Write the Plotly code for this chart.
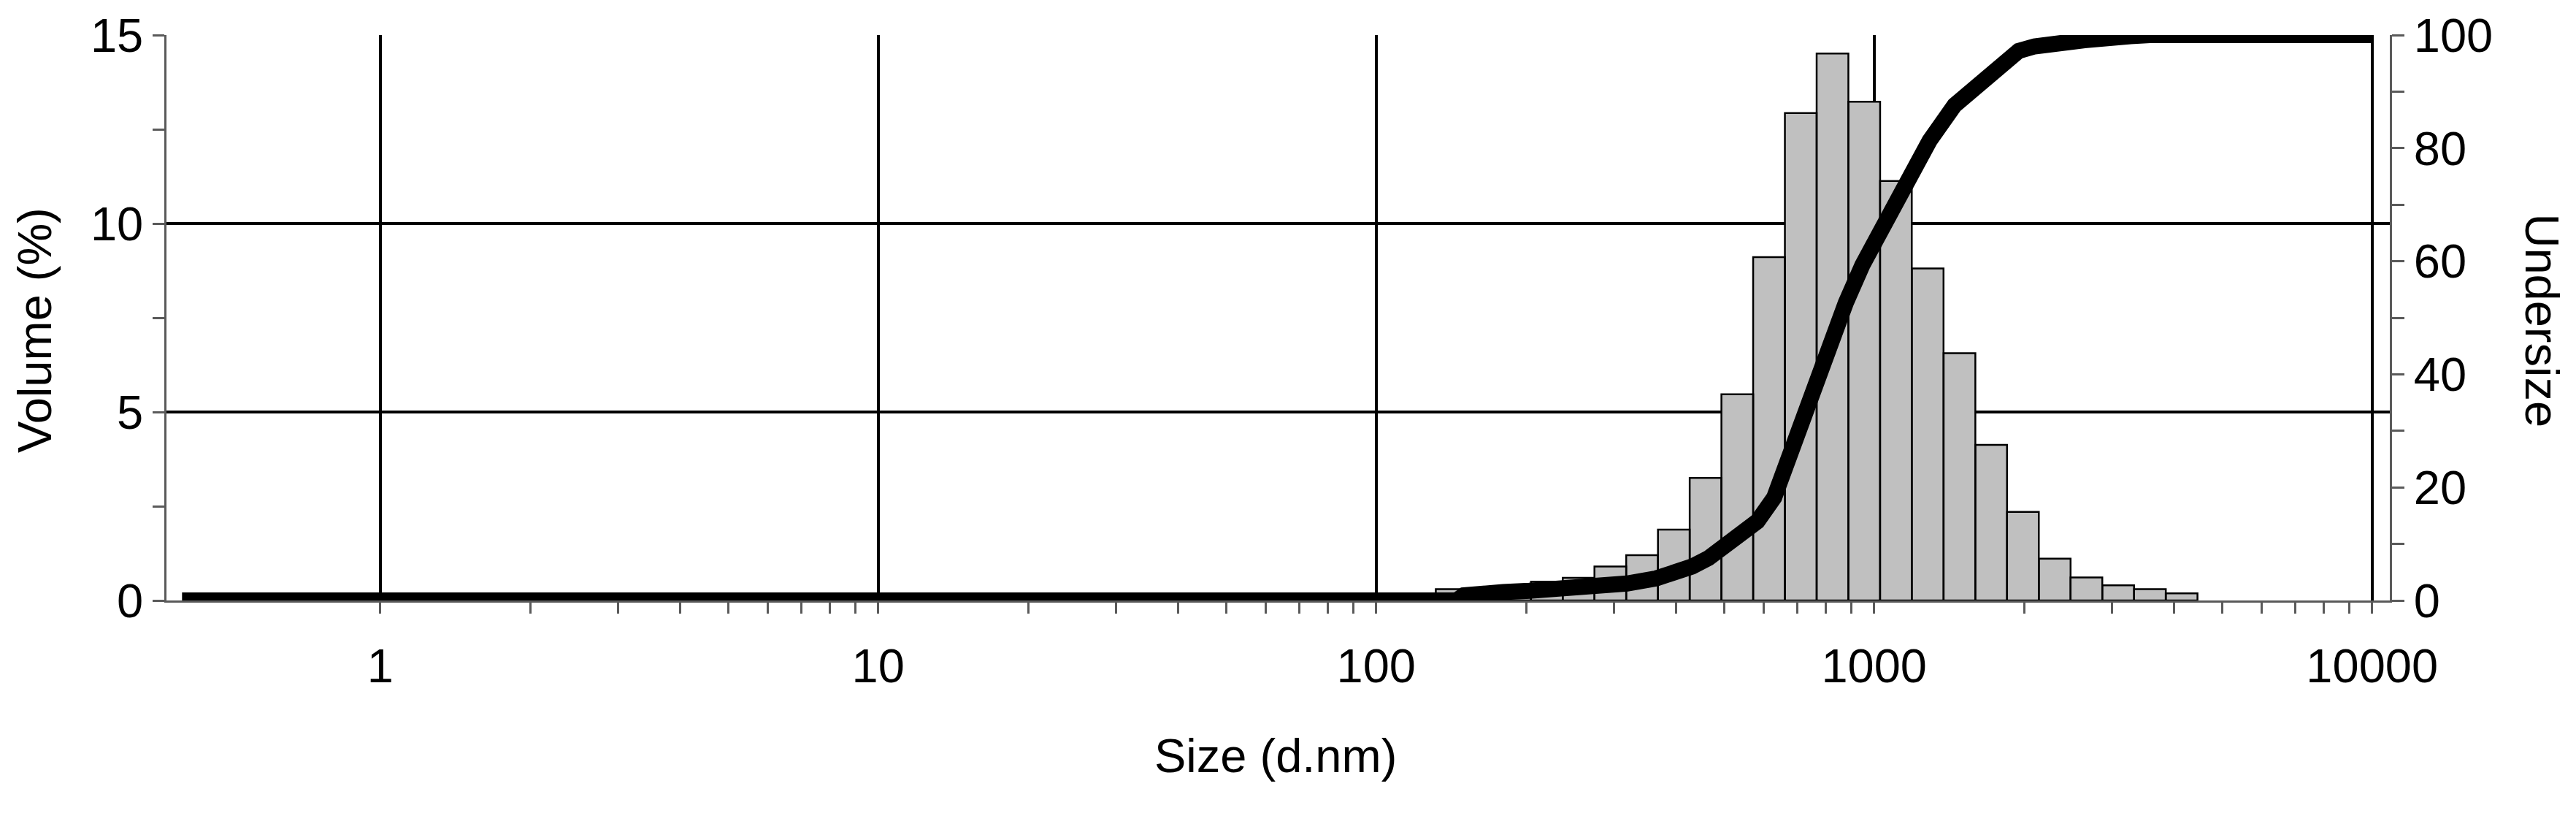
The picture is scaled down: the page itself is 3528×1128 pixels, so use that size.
import numpy as np
import plotly.graph_objects as go

# ---------------- data ----------------
# Volume distribution bins (Malvern size classes, d.nm) and volume %
bin_size_nm = [141.8, 164.2, 190.1, 220.2, 255.0, 295.3, 342.0, 396.1, 458.7,
               531.2, 615.1, 712.4, 825.0, 955.4, 1106, 1281, 1484, 1718,
               1990, 2305, 2669, 3091, 3580, 4145]
volume_pct = [0.30, 0.20, 0.25, 0.50, 0.60, 0.90, 1.20, 1.88, 3.25,
              5.47, 9.11, 12.93, 14.51, 13.23, 11.13, 8.81, 6.56, 4.13,
              2.35, 1.11, 0.61, 0.40, 0.30, 0.19]

# Cumulative undersize curve (%)
undersize_size_nm = [0.4, 145, 150, 159, 180, 203, 254, 274, 319, 365, 400,
                     431, 465, 501, 541, 583, 630, 656, 705, 766, 827, 877,
                     947, 1023, 1106, 1195, 1292, 1451, 1549, 1630, 1693,
                     1851, 1952, 2100, 2212, 2644, 3273, 3577, 10000]
undersize_pct = [0, 0, 0.9, 1.3, 1.5, 1.7, 2.2, 2.5, 3.0, 3.9, 4.7,
                 6.0, 7.5, 9.5, 11.6, 14.0, 18.2, 22.5, 29.0, 38.0, 46.5, 52.6,
                 59.3, 65.0, 70.6, 76.3, 81.3, 87.6, 89.8, 91.9, 93.0,
                 95.6, 97.2, 98.0, 98.4, 99.1, 99.8, 100, 100]

x_tick_vals = [1, 10, 100, 1000, 10000]
x_tick_text = ["1", "10", "100", "1000", "10000"]
y_left_ticks = [0, 5, 10, 15]
y_left_minor = [2.5, 7.5, 12.5]
y_right_ticks = [0, 20, 40, 60, 80, 100]
y_right_minor = [10, 30, 50, 70, 90]

# ---------------- derived geometry for bars ----------------
logc = np.log10(bin_size_nm)
half = np.mean(np.diff(logc)) / 2.0
edges_l = 10 ** (logc - half)
edges_r = 10 ** (logc + half)
bx, by = [], []
for l, r, h in zip(edges_l, edges_r, volume_pct):
    bx += [l, l, r, r, l, None]
    by += [0, h, h, 0, 0, None]

x_minor = [k * 10 ** d for d in range(0, 4) for k in range(2, 10)]

AX = "#5a5a5a"
FONT = "Liberation Sans, Arial, Helvetica, sans-serif"
XR = [-0.4292, 4.0356]

fig = go.Figure()
fig.add_trace(go.Scatter(
    x=bx, y=by, mode="lines", fill="toself", fillcolor="#c0c0c0",
    line=dict(color="black", width=2.5), xaxis="x", yaxis="y",
    hoverinfo="skip", name="Volume"))
fig.add_trace(go.Scatter(
    x=undersize_size_nm, y=undersize_pct, mode="lines",
    line=dict(color="black", width=22), xaxis="x", yaxis="y2",
    name="Undersize"))

fig.update_layout(
    width=3520, height=1120,
    margin=dict(l=220, r=255, t=40, b=306, autoexpand=False),
    paper_bgcolor="white", plot_bgcolor="white", showlegend=False,
    font=dict(family=FONT, size=65, color="black"),
    xaxis=dict(type="log", range=XR, tickmode="array", tickvals=x_tick_vals,
               ticktext=x_tick_text, showgrid=True, gridcolor="black",
               gridwidth=3.5, ticks="outside", ticklen=15, tickwidth=2.5,
               tickcolor=AX, showline=True, linecolor=AX, linewidth=2.5,
               zeroline=False, layer="below traces", ticklabelstandoff=16,
               minor=dict(tickmode="array", tickvals=x_minor, ticks="outside",
                          ticklen=15, tickwidth=2.5, tickcolor=AX,
                          showgrid=False),
               tickfont=dict(size=65)),
    xaxis2=dict(type="log", range=XR, overlaying="x", anchor="y",
                side="bottom", tickmode="array",
                tickvals=x_tick_vals + x_minor, ticks="inside", ticklen=15,
                tickwidth=2.5, tickcolor=AX, showticklabels=False,
                showgrid=False, showline=False, zeroline=False,
                layer="below traces"),
    yaxis=dict(range=[0, 15], tickmode="array", tickvals=y_left_ticks,
               showgrid=True, gridcolor="black", gridwidth=3.5,
               ticks="outside", ticklen=16, tickwidth=2.5, tickcolor=AX,
               showline=True, linecolor=AX, linewidth=2.5, zeroline=False,
               layer="below traces",
               minor=dict(tickmode="array", tickvals=y_left_minor,
                          ticks="outside", ticklen=16, tickwidth=2.5,
                          tickcolor=AX, showgrid=False)),
    yaxis4=dict(range=[0, 15], overlaying="y", anchor="x", side="left",
                tickmode="array", tickvals=y_left_minor, ticks="inside",
                ticklen=14, tickwidth=2.5, tickcolor=AX,
                showticklabels=False, showgrid=False, showline=False,
                zeroline=False),
    yaxis2=dict(range=[0, 100], overlaying="y", anchor="x", side="right",
                tickmode="array", tickvals=y_right_ticks, ticks="outside",
                ticklen=17, tickwidth=2.5, tickcolor=AX, showgrid=False,
                showline=True, linecolor=AX, linewidth=2.5, zeroline=False,
                minor=dict(tickmode="array", tickvals=y_right_minor,
                           ticks="outside", ticklen=17, tickwidth=2.5,
                           tickcolor=AX, showgrid=False)),
    yaxis3=dict(range=[0, 100], overlaying="y", anchor="x", side="right",
                tickmode="array", tickvals=y_right_ticks + y_right_minor,
                ticks="inside", ticklen=17, tickwidth=2.5, tickcolor=AX,
                showticklabels=False, showgrid=False, showline=False,
                zeroline=False),
    annotations=[
        dict(text="Volume (%)", xref="paper", yref="paper", x=-0.0592,
             y=0.4777, textangle=-90, showarrow=False, xanchor="center",
             yanchor="middle", font=dict(size=65, family=FONT)),
        dict(text="Undersize", xref="paper", yref="paper", x=1.0686,
             y=0.4944, textangle=90, showarrow=False, xanchor="center",
             yanchor="middle", font=dict(size=65, family=FONT)),
        dict(text="Size (d.nm)", xref="paper", yref="paper", x=0.4987,
             y=-0.2743, showarrow=False, xanchor="center", yanchor="middle",
             font=dict(size=65, family=FONT)),
    ],
)

fig.write_html("out.html")
